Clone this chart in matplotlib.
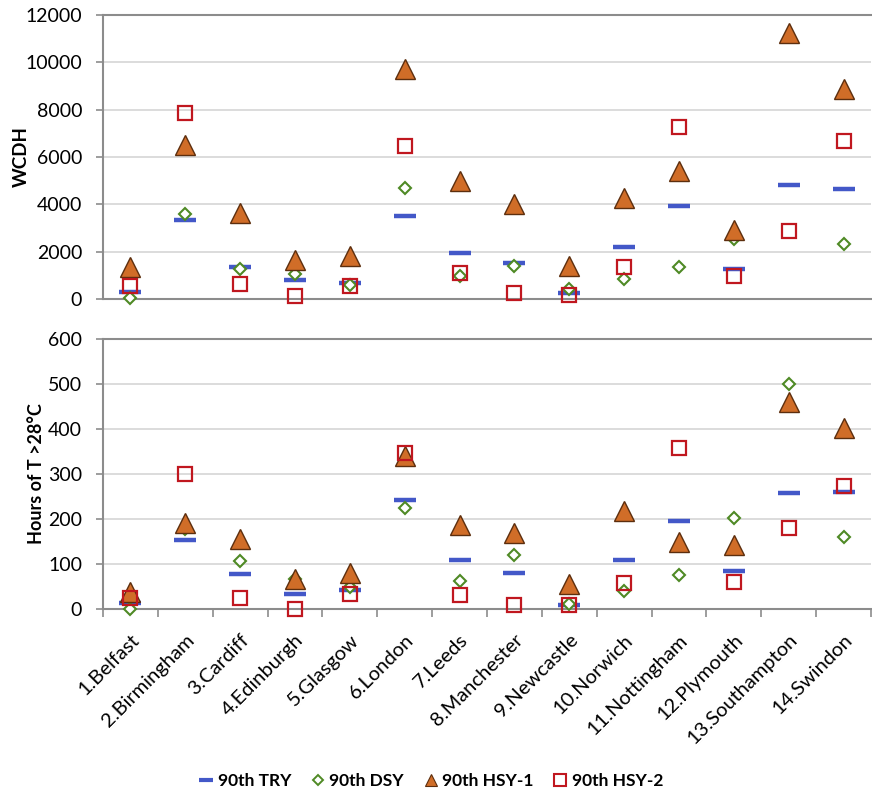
import matplotlib.pyplot as plt
import numpy as np

plt.rcParams["font.family"] = ["Lato", "DejaVu Sans"]

cities = ["1.Belfast", "2.Birmingham", "3.Cardiff", "4.Edinburgh", "5.Glasgow",
          "6.London", "7.Leeds", "8.Manchester", "9.Newcastle", "10.Norwich",
          "11.Nottingham", "12.Plymouth", "13.Southampton", "14.Swindon"]

# WCDH (top panel)
wcdh_try = [310, 3340, 1370, 800, 690, 3500, 1960, 1520, 240, 2210, 3920, 1270, 4830, 4650]
wcdh_dsy = [60, 3580, 1250, 1060, 600, 4700, 970, 1410, 410, 830, 1370, 2550, np.nan, 2310]
wcdh_hsy1 = [1350, 6500, 3620, 1650, 1820, 9700, 4990, 4000, 1390, 4280, 5410, 2920, 11230, 8860]
wcdh_hsy2 = [550, 7870, 630, 130, 560, 6480, 1080, 240, 180, 1370, 7250, 970, 2870, 6690]

# hours above 28 C (bottom panel)
hrs_try = [13, 154, 77, 33, 43, 243, 109, 79, 10, 109, 196, 84, 257, 261]
hrs_dsy = [0, 178, 106, 67, 49, 225, 63, 121, 12, 39, 75, 203, 501, 159]
hrs_hsy1 = [38, 192, 156, 67, 79, 341, 186, 170, 56, 217, 150, 143, 461, 403]
hrs_hsy2 = [25, 301, 25, 0, 33, 347, 32, 10, 10, 58, 359, 61, 180, 273]

series_names = ["90th TRY", "90th DSY", "90th HSY-1", "90th HSY-2"]

blue = "#4358c8"
green = "#4f8a25"
orange = "#d06d28"
brown = "#5c2e0e"
red = "#c0171f"
spine = "#8c8c8c"
grid = "#d6d6d6"

fig = plt.figure(figsize=(8.72, 7.98), dpi=100)
ax1 = fig.add_axes([0.1181, 0.6253, 0.8807, 0.3559])
ax2 = fig.add_axes([0.1181, 0.2368, 0.8807, 0.3383])

x = np.arange(len(cities))


def draw(ax, t, d, h1, h2):
    ax.plot(x, t, ls="none", marker="_", ms=16, mew=3.2, color=blue, clip_on=False, zorder=3)
    ax.plot(x, d, ls="none", marker="D", ms=6.5, mew=1.5, mfc="white", mec=green, clip_on=False, zorder=3)
    ax.plot(x, h1, ls="none", marker="^", ms=14, mew=1.0, mfc=orange, mec=brown, clip_on=False, zorder=4)
    ax.plot(x, h2, ls="none", marker="s", ms=9.5, mew=1.6, mfc="none", mec=red, clip_on=False, zorder=5)
    ax.set_xlim(-0.5, len(cities) - 0.5)
    ax.grid(axis="y", color=grid, lw=1.2)
    ax.set_axisbelow(True)
    for s in ["left", "bottom", "top"]:
        ax.spines[s].set_color(spine)
        ax.spines[s].set_linewidth(1.5)
    ax.spines["right"].set_visible(False)
    ax.tick_params(axis="y", length=5, color=spine, width=1.2, labelsize=14, pad=10)


draw(ax1, wcdh_try, wcdh_dsy, wcdh_hsy1, wcdh_hsy2)
ax1.set_ylim(0, 12000)
ax1.set_yticks(range(0, 12001, 2000))
ax1.set_xticks([])
ax1.set_ylabel("WCDH", fontsize=13.5, fontweight="bold", labelpad=-3)

draw(ax2, hrs_try, hrs_dsy, hrs_hsy1, hrs_hsy2)
ax2.set_ylim(0, 600)
ax2.set_yticks(range(0, 601, 100))
ax2.set_xticks(np.arange(-0.5, len(cities), 1.0), minor=False)
ax2.set_xticklabels([])
ax2.set_xticks(x, minor=True)
ax2.set_xticklabels(cities, minor=True, rotation=45, ha="right", rotation_mode="anchor",
                    fontsize=14.5)
ax2.tick_params(axis="x", which="major", length=6, color=spine, width=1.2, direction="out")
ax2.tick_params(axis="x", which="minor", length=0, pad=16)
ax2.set_ylabel("Hours of T >28°C", fontsize=13, fontweight="bold", labelpad=2)

handles = [
    plt.Line2D([], [], ls="none", marker="_", ms=10, mew=3, color=blue),
    plt.Line2D([], [], ls="none", marker="D", ms=5, mew=1.4, mfc="white", mec=green),
    plt.Line2D([], [], ls="none", marker="^", ms=9, mew=0.8, mfc=orange, mec=brown),
    plt.Line2D([], [], ls="none", marker="s", ms=8.5, mew=1.5, mfc="none", mec=red),
]
fig.legend(handles, series_names, loc="center", bbox_to_anchor=(0.495, 0.021), ncol=4,
           frameon=False, handlelength=0.7, handletextpad=0.3, columnspacing=1.2,
           prop={"size": 12.5, "weight": "bold"})

fig.savefig("out.png", dpi=100)
